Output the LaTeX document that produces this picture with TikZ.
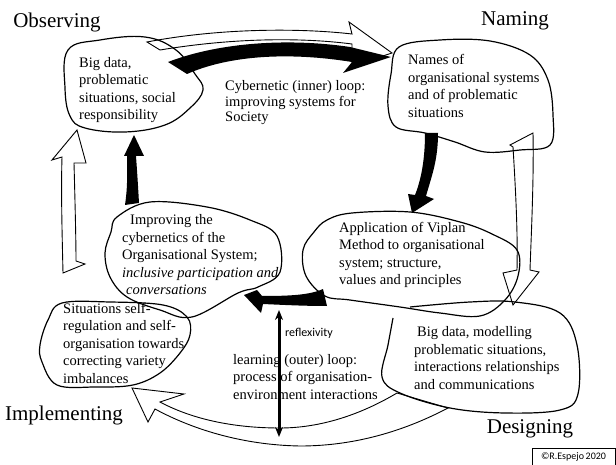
\documentclass[tikz,border=0pt]{standalone}
\usepackage{fontspec}
\setmainfont{Liberation Serif}
\setsansfont{Carlito}
\usepackage{tikz}
\usetikzlibrary{positioning,arrows.meta}

\begin{document}
\begin{tikzpicture}[x=1pt,y=-1pt,
    blob/.style={line width=1.2pt, line join=round},
    hollow/.style={line width=0.9pt, line join=miter},
    txt/.style={anchor=west, inner sep=0pt, align=left, font=\fontsize{14.5}{17.5}\selectfont},
    stage/.style={inner sep=0pt, font=\fontsize{21}{24}\selectfont}]
  \useasboundingbox (0,0) rectangle (616,465);

  % the four stages
  \node[stage] (observing) at (57,22) {Observing};
  \node[stage] (naming) at (515,21) {Naming};
  \node[stage] (implementing) at (64,415) {Implementing};
  \node[stage] (designing) at (530,429) {Designing};

  % hand drawn blobs
  \draw[blob] plot[smooth cycle, tension=0.65] coordinates {(68,50) (100,40) (145,37) (176,50) (195,74) (203,90)
     (190,108) (165,125) (125,132) (85,128) (70,116) (65,88)};
  \draw[blob] plot[smooth cycle, tension=0.6] coordinates {(399,47) (440,40) (490,41) (530,55) (548,80) (553,115)
     (550,145) (520,150) (485,152) (455,142) (425,133) (396,127) (388,106) (391,74)};
  \draw[blob] plot[smooth cycle, tension=0.6] coordinates {(327,220) (352,213) (410,212) (460,222) (492,234) (517,250)
     (518,276) (505,300) (480,316) (440,313) (400,307) (350,300) (325,296) (306,276) (303,250) (314,232)};
  \draw[blob] plot[smooth, tension=0.6] coordinates {(393,318) (388,345) (382,377) (400,393) (450,408) (505,413)
     (560,410) (578,394) (577,345) (560,313) (515,302) (470,302) (410,307)};
  \draw[blob] plot[smooth cycle, tension=0.6] coordinates {(117,217) (150,202) (207,207) (250,220) (277,236) (280,272)
     (258,287) (238,293) (192,317) (160,310) (127,297) (110,277) (105,253) (111,232)};
  \draw[blob] plot[smooth cycle, tension=0.6] coordinates {(62,303) (110,302) (163,305) (187,317) (190,335) (180,353)
     (160,373) (133,385) (95,387) (57,385) (42,362) (40,345) (48,320)};

  % outer loop (hollow arrows)
  \draw[hollow] (160,50) -- (147,42) .. controls (220,28) and (300,28) .. (352,34) -- (349,22) -- (392,53)
     -- (352,66) -- (352,44) .. controls (290,36) and (220,40) .. (160,50);
  \draw[hollow] (510,145) -- (533,133) .. controls (534,180) and (531,240) .. (530,270) -- (539,272)
     -- (513,305) -- (503,273) -- (517,270) .. controls (518,230) and (515,180) .. (513,147) -- cycle;
  \draw[hollow] (397,393) .. controls (360,415) and (320,428) .. (280,428) .. controls (230,428) and (190,418) .. (160,402)
     -- (184,394) -- (132,388) -- (148,422) -- (155,409) .. controls (190,428) and (240,445) .. (300,446)
     .. controls (360,446) and (410,428) .. (448,408) -- cycle;
  \draw[hollow] (77,130) -- (86,163) -- (74,163) .. controls (75,200) and (76,240) .. (76,261) -- (85,264)
     -- (63,273) .. controls (62,230) and (61,190) .. (62,157) -- (52,160) -- cycle;

  % inner loop (black arrows)
  \fill (168,62) .. controls (220,42) and (290,38) .. (350,47) -- (391,57) -- (343,73) -- (352,62)
     .. controls (290,52) and (230,55) .. (187,74) -- cycle;
  \fill (425,133) .. controls (425,160) and (421,180) .. (415,195) -- (408,194) -- (412,213) -- (434,199)
     -- (426,196) .. controls (432,175) and (438,160) .. (438,133) -- cycle;
  \fill (323,289) .. controls (310,295) and (290,296) .. (262,296) -- (257,290) -- (244,295) -- (261,313)
     -- (263,304) .. controls (285,305) and (305,306) .. (327,306) -- cycle;
  \fill (125,205) .. controls (128,185) and (127,170) .. (127,156) -- (124,156) -- (134,135) -- (144,156)
     -- (136,156) .. controls (137,170) and (138,185) .. (139,203) -- cycle;

  % texts
  \node[txt] (bigdata) at (79,90) {Big data,\\problematic\\situations, social\\responsibility};
  \node[txt] (names) at (408,86) {Names of\\organisational systems\\and of problematic\\situations};
  \node[txt] (viplan) at (339,255) {Application of Viplan\\Method to organisational\\system; structure,\\values and principles};
  \node[txt] (modelling) at (414,358) {\hspace*{3pt}Big data, modelling\\problematic situations,\\interactions relationships\\and communications};
  \node[txt] (improving) at (122,255) {\hspace*{8pt}Improving the\\cybernetics of the\\Organisational System;\\\textit{inclusive participation and}\\\hspace*{4pt}\textit{conversations}};
  \node[txt] (situations) at (63,343) {Situations self-\\regulation and self-\\organisation towards\\correcting variety\\imbalances};
  \node[txt, font=\fontsize{14.5}{15.5}\selectfont] (innerloop) at (225,103) {Cybernetic (inner) loop:\\improving systems for\\Society};
  \node[txt] (outerloop) at (233,377) {learning (outer) loop:\\process of organisation-\\environment interactions};

  % reflexivity
  \coordinate (rtop) at (279,310);
  \coordinate (rbot) at (279,437);
  \draw[<->, >={Stealth[length=10pt,width=8pt]}, line width=3pt] (rtop) -- (rbot);
  \node[anchor=west, inner sep=0pt, font=\sffamily\fontsize{12}{14}\selectfont] (reflex) at (285,333) {reflexivity};

  \node[draw, line width=0.6pt, minimum width=83pt, minimum height=18pt, font=\sffamily\fontsize{10}{12}\selectfont]
     (copyright) at (573.5,457) {©R.Espejo\,2020};
\end{tikzpicture}
\end{document}
